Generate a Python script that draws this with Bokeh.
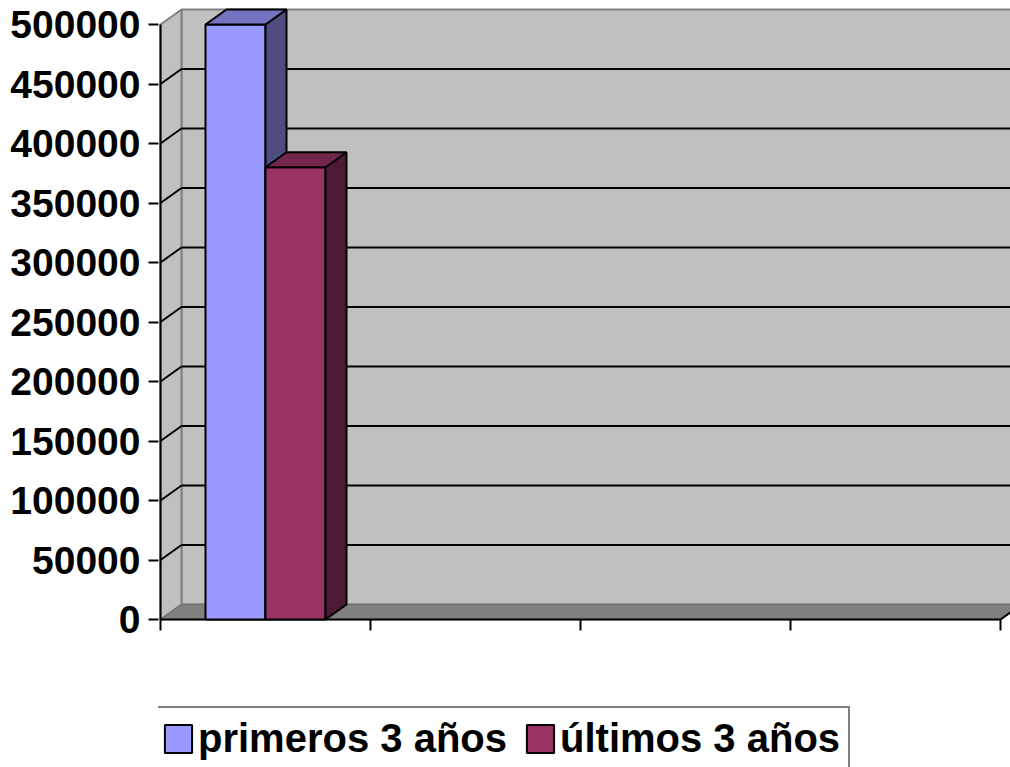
from bokeh.plotting import figure
from bokeh.models import Range1d, FixedTicker, Legend, LegendItem
from bokeh.embed import file_html
from bokeh.resources import INLINE

# ---- data ----
categories = ["", "", "", ""]
series_names = ["primeros 3 años", "últimos 3 años"]
primeros = [500000]
ultimos = [380000]
y_ticks = [0, 50000, 100000, 150000, 200000, 250000, 300000, 350000, 400000, 450000, 500000]
y_tick_labels = ["0", "50000", "100000", "150000", "200000", "250000", "300000",
                 "350000", "400000", "450000", "500000"]

# ---- geometry (pixel -> data helpers) ----
Y_MAX = 500000
PX_Y = Y_MAX / 595.0          # data units per pixel (vertical)
PX_X = 1 / 210.0              # data units per pixel (horizontal)
DX = 21 * PX_X                # 3D depth offset
DY = 15 * PX_Y
BAR_W = 60 * PX_X
NCAT = len(categories)

W, H = 1010, 767
FRAME_L = 158
p = figure(width=W, height=H, output_backend="svg", toolbar_location=None,
           x_range=Range1d(-2 * PX_X, (W - 160) * PX_X),
           y_range=Range1d(-(H - 619) * PX_Y, 619 * PX_Y),
           x_axis_location=None, y_axis_location="left",
           min_border_left=FRAME_L, min_border_right=0, min_border_top=0, min_border_bottom=0)
p.outline_line_color = None
p.grid.visible = False
p.background_fill_color = "white"
p.border_fill_color = "white"

ax = p.yaxis[0]
ax.ticker = FixedTicker(ticks=y_ticks)
ax.major_label_overrides = {t: l for t, l in zip(y_ticks, y_tick_labels)}
ax.axis_line_color = None
ax.major_tick_line_color = "black"
ax.major_tick_line_width = 2
ax.major_tick_out = 10
ax.major_tick_in = 0
ax.minor_tick_line_color = None
ax.major_label_standoff = 8
ax.major_label_text_font = "Liberation Sans"
ax.major_label_text_font_style = "bold"
ax.major_label_text_font_size = "39px"
ax.major_label_text_color = "black"

WALL = "#C0C0C0"
WALL_LINE = "#808080"

# back wall
p.quad(left=[DX], right=[NCAT + DX], bottom=[DY], top=[Y_MAX + DY],
       fill_color=WALL, line_color=WALL_LINE, line_width=2)
# left wall
p.patch([0, 0, DX, DX], [0, Y_MAX, Y_MAX + DY, DY],
        fill_color=WALL, line_color=WALL_LINE, line_width=2)
# floor
p.patch([0, NCAT, NCAT + DX, DX], [0, 0, DY, DY],
        fill_color="#808080", line_color="#707070", line_width=1.5)
p.segment(x0=[NCAT], y0=[0], x1=[NCAT + DX], y1=[DY], line_color="black", line_width=2)

# gridlines
grid_vals = [v for v in y_ticks if 0 < v < Y_MAX]
p.segment(x0=[DX] * len(grid_vals), y0=[v + DY for v in grid_vals],
          x1=[NCAT + DX] * len(grid_vals), y1=[v + DY for v in grid_vals],
          line_color="black", line_width=2)
p.segment(x0=[0] * len(grid_vals), y0=grid_vals,
          x1=[DX] * len(grid_vals), y1=[v + DY for v in grid_vals],
          line_color="black", line_width=2)

# axes lines
p.segment(x0=[0], y0=[0], x1=[0], y1=[Y_MAX], line_color="black", line_width=2)
p.segment(x0=[0], y0=[0], x1=[NCAT], y1=[0], line_color="black", line_width=2)
xt = list(range(NCAT + 1))
p.segment(x0=xt, y0=[0] * len(xt), x1=xt, y1=[-11 * PX_Y] * len(xt),
          line_color="black", line_width=2)

# bars
series = [primeros, ultimos]
colors = [("#9999FF", "#7373BF", "#4D4D80"), ("#993366", "#73264D", "#4D1A33")]
front_renderers = []
for si, vals in enumerate(series):
    fc, tc, sc = colors[si]
    lefts, rights, tops = [], [], []
    txs, tys, sxs, sys_ = [], [], [], []
    for ci, v in enumerate(vals):
        x0 = ci + 0.5 - BAR_W + si * BAR_W
        x1 = x0 + BAR_W
        lefts.append(x0); rights.append(x1); tops.append(v)
        txs.append([x0, x1, x1 + DX, x0 + DX]); tys.append([v, v, v + DY, v + DY])
        sxs.append([x1, x1, x1 + DX, x1 + DX]); sys_.append([0, v, v + DY, DY])
    fr = p.quad(left=lefts, right=rights, bottom=[0] * len(vals), top=tops,
                fill_color=fc, line_color="black", line_width=2)
    p.patches(xs=sxs, ys=sys_, fill_color=sc, line_color="black", line_width=2)
    p.patches(xs=txs, ys=tys, fill_color=tc, line_color="black", line_width=2)
    front_renderers.append(fr)

legend = Legend(items=[LegendItem(label=series_names[i], renderers=[front_renderers[i]])
                       for i in range(len(series_names))],
                orientation="horizontal", location=(151 - FRAME_L, -4))
legend.label_text_font = "Liberation Sans"
legend.label_text_font_style = "bold"
legend.label_text_font_size = "40px"
legend.label_text_color = "black"
legend.glyph_width = 34
legend.glyph_height = 35
legend.label_standoff = 3
legend.spacing = 16
legend.padding = 8
legend.margin = 0
legend.border_line_color = "black"
legend.border_line_width = 2
legend.background_fill_color = "white"
legend.background_fill_alpha = 1
p.add_layout(legend)

open("out.html", "w").write(file_html(p, INLINE))
